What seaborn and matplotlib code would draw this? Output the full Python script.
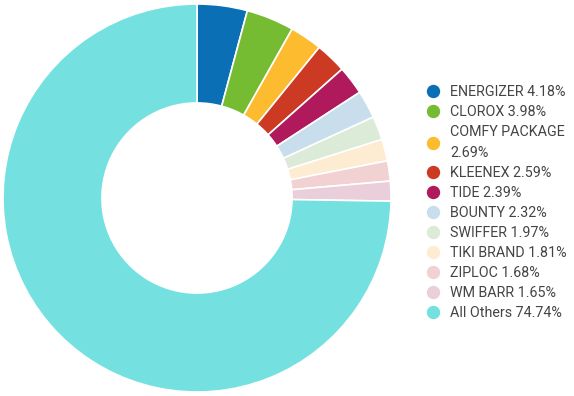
import textwrap
import matplotlib.pyplot as plt
from matplotlib.lines import Line2D
import seaborn as sns

brands = ["ENERGIZER", "CLOROX", "COMFY PACKAGE", "KLEENEX", "TIDE", "BOUNTY",
          "SWIFFER", "TIKI BRAND", "ZIPLOC", "WM BARR", "All Others"]
shares = [4.18, 3.98, 2.69, 2.59, 2.39, 2.32, 1.97, 1.81, 1.68, 1.65, 74.74]
colors = ["#0b6fb6", "#76bc33", "#fdbb30", "#cc3a24", "#b0195c", "#c9deec",
          "#dcebd7", "#fdecd2", "#f1d1d2", "#eacfdb", "#74e0e0"]

sns.set_theme(style="white")
plt.rcParams['font.family'] = ['Roboto', 'DejaVu Sans']

fig = plt.figure(figsize=(5.74, 3.96), dpi=100)
ax = fig.add_axes([3 / 574, 4 / 396, 388 / 574, 388 / 396])

ax.pie(shares, colors=colors, startangle=90, counterclock=False,
       wedgeprops=dict(width=0.51, edgecolor="white", linewidth=1.2))
ax.set_xlim(-1, 1)
ax.set_ylim(-1, 1)
ax.set_aspect("equal")
ax.axis("off")

labels = [textwrap.fill(f"{b} {s:.2f}%", 18) for b, s in zip(brands, shares)]
handles = [Line2D([], [], marker="o", linestyle="", markersize=8.6,
                  markerfacecolor=c, markeredgecolor=c) for c in colors]
leg = fig.legend(handles, labels, loc="upper left",
                 bbox_to_anchor=(419 / 574, 1 - 78 / 396),
                 frameon=False, fontsize=10.3, handletextpad=0.7,
                 labelspacing=0.42, borderpad=0, handlelength=1.0)
for t in leg.get_texts():
    t.set_color("#444444")
    t.set_linespacing(1.6)

fig.savefig("out.png", dpi=100)
